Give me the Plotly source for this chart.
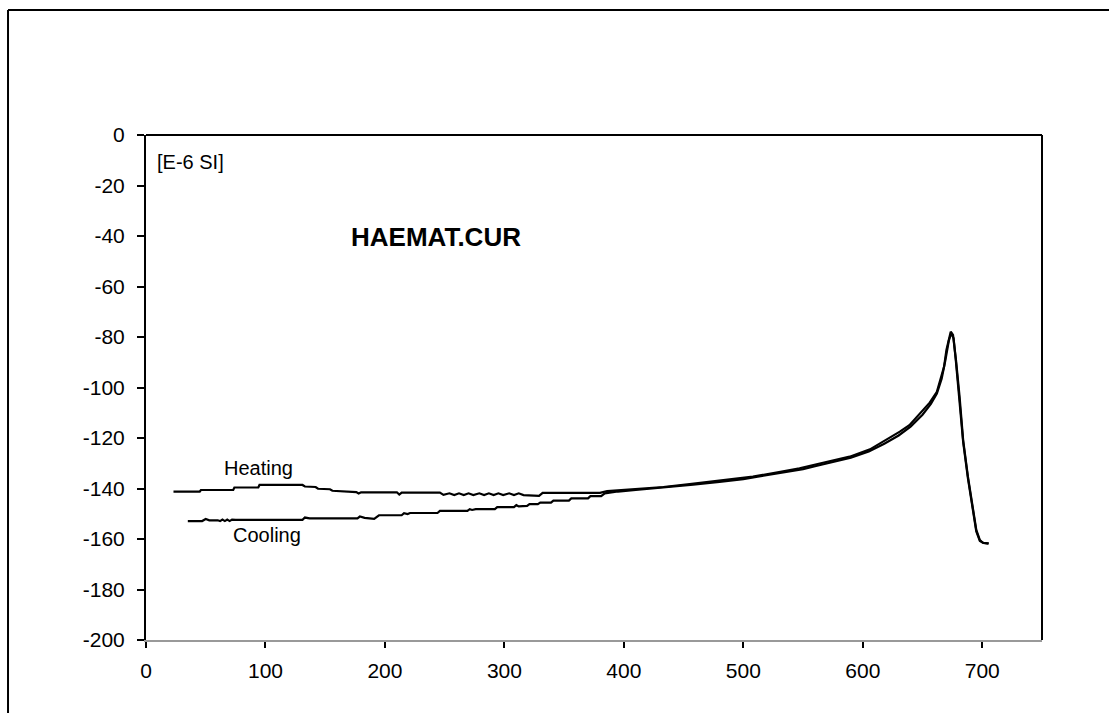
import plotly.graph_objects as go

# Heating curve (temperature in °C, susceptibility in E-6 SI)
heat_t = [23, 45, 46, 73, 74, 94, 95, 131, 133, 142, 144, 154, 156, 161, 163, 176, 178, 180, 210, 212, 214, 246, 249,
          254, 258, 262, 266, 270, 274, 279, 283, 287, 291, 295, 299, 304, 308, 312, 316, 320, 326,
          329, 332, 380, 386, 405, 433, 455, 483, 508, 531, 547, 564, 572, 589, 606, 617, 631, 639,
          648, 656, 662, 666, 668, 670, 673.6, 675.5, 678, 681, 684, 688, 692, 695, 698, 700.5, 705.5]
heat_k = [-141.2, -141.2, -140.6, -140.6, -139.6, -139.6, -138.6, -138.6, -139.2, -139.4, -140.1, -140.3,
          -140.9, -141.0, -141.3,
          -141.4, -142.0, -141.5, -141.5, -142.4, -141.6, -141.6, -142.5,
          -141.9, -142.6, -141.9, -142.6, -141.9, -142.6, -141.9, -142.6, -141.9, -142.6, -141.9,
          -142.6, -141.9, -142.6, -141.9, -142.6, -142.6, -142.6,
          -142.9, -141.7, -141.7, -141.0, -140.4, -139.4, -138.3, -136.7, -135.3, -133.4, -132.0,
          -130.1, -129.3, -127.4, -124.5, -121.5, -117.5, -114.9,
          -110.2, -106.0, -101.7, -95.7, -91.8, -85.1, -77.9, -79.2, -89.1, -103.6, -120.8, -135.3,
          -147.2, -156.4, -160.4, -161.5, -161.7]

# Cooling curve
cool_t = [35, 47, 50, 53, 60, 62, 64, 66, 68, 70, 72, 75, 131, 133, 137, 177, 179, 183, 191, 195,
          214, 216, 219, 221, 244, 246, 269, 271, 273, 276, 292, 294, 308, 310, 312, 319, 321, 328,
          330, 339, 341, 354, 356, 370, 372, 381, 384, 395, 410, 435, 458, 480, 500, 512, 530, 550,
          560, 575, 590, 605, 618, 630, 640, 650, 657, 662, 666, 669, 672, 674, 676, 678, 681, 684,
          688, 692, 695, 698, 701, 705]
cool_k = [-152.9, -152.9, -152.1, -152.6, -152.6, -152.9, -152.3, -152.9, -152.3, -152.9, -152.3,
          -152.4, -152.4, -151.5, -151.8, -151.8, -151.1, -151.6, -152.0, -150.6,
          -150.6, -149.8, -150.1, -149.7, -149.7, -148.9, -148.9, -148.2, -148.5, -148.2, -148.2,
          -147.4, -147.4, -146.6, -147.1, -146.9, -146.2, -146.2,
          -145.6, -145.6, -144.8, -144.8, -143.9, -143.9, -143.0, -143.0, -141.9, -141.2, -140.6,
          -139.6, -138.5, -137.4, -136.3, -135.3, -133.9, -132.3,
          -131.2, -129.4, -127.8, -125.3, -122.3, -119.0, -115.5, -110.8, -106.5, -102.4, -96.5,
          -89.5, -81.5, -78.5, -80.5, -90.0, -104.5, -121.5,
          -136.0, -148.0, -157.0, -160.8, -161.6, -161.8]

x_ticks = [0, 100, 200, 300, 400, 500, 600, 700]
y_ticks = [0, -20, -40, -60, -80, -100, -120, -140, -160, -180, -200]

FONT = "Liberation Sans, Arial, sans-serif"

fig = go.Figure()
fig.add_trace(go.Scatter(x=heat_t, y=heat_k, mode="lines", name="Heating",
                         line=dict(color="black", width=2.2)))
fig.add_trace(go.Scatter(x=cool_t, y=cool_k, mode="lines", name="Cooling",
                         line=dict(color="black", width=2.2)))

fig.update_layout(
    width=1109, height=713,
    margin=dict(l=146, r=67, t=135, b=73),
    paper_bgcolor="white", plot_bgcolor="white",
    showlegend=False,
    font=dict(family=FONT, size=21, color="black"),
    xaxis=dict(range=[0, 750], tickvals=x_ticks, ticktext=[str(v) for v in x_ticks],
               showgrid=False, zeroline=False, showline=True, linecolor="#999999", linewidth=2,
               ticks="outside", ticklen=6, tickwidth=2, tickcolor="black",
               ticklabelstandoff=5, tickfont=dict(family=FONT, size=21, color="black")),
    yaxis=dict(range=[-200, 0], tickvals=y_ticks, ticktext=[str(v) for v in y_ticks],
               showgrid=False, zeroline=False, showline=True, linecolor="black", linewidth=2,
               ticks="outside", ticklen=7, tickwidth=2, tickcolor="black",
               ticklabelstandoff=8, tickfont=dict(family=FONT, size=21, color="black")),
    shapes=[
        # top and right frame of plot area
        dict(type="line", xref="paper", yref="paper", x0=0, x1=1, y0=1, y1=1,
             line=dict(color="black", width=2)),
        dict(type="line", xref="paper", yref="paper", x0=1, x1=1, y0=0, y1=1,
             line=dict(color="black", width=2)),
        # outer border (top and left visible)
        dict(type="line", xref="paper", yref="paper", x0=-0.154, x1=1.2, y0=1.2475, y1=1.2475,
             line=dict(color="black", width=2)),
        dict(type="line", xref="paper", yref="paper", x0=-0.154, x1=-0.154, y0=-0.3, y1=1.2475,
             line=dict(color="black", width=2)),
    ],
    annotations=[
        dict(text="[E-6 SI]", xref="paper", yref="paper", x=0.010, y=0.9465,
             xanchor="left", yanchor="middle", showarrow=False,
             font=dict(family=FONT, size=20, color="black")),
        dict(text="<b>HAEMAT.CUR</b>", xref="paper", yref="paper", x=0.3237, y=0.798,
             xanchor="center", yanchor="middle", showarrow=False,
             font=dict(family=FONT, size=26, color="black")),
        dict(text="Heating", xref="paper", yref="paper", x=0.1256, y=0.3406,
             xanchor="center", yanchor="middle", showarrow=False,
             font=dict(family=FONT, size=20, color="black")),
        dict(text="Cooling", xref="paper", yref="paper", x=0.1356, y=0.2079,
             xanchor="center", yanchor="middle", showarrow=False,
             font=dict(family=FONT, size=20, color="black")),
    ],
)

fig.write_html("out.html",
               config={"displayModeBar": False},
               post_script="document.body.style.margin='0';document.body.style.overflow='hidden';")
